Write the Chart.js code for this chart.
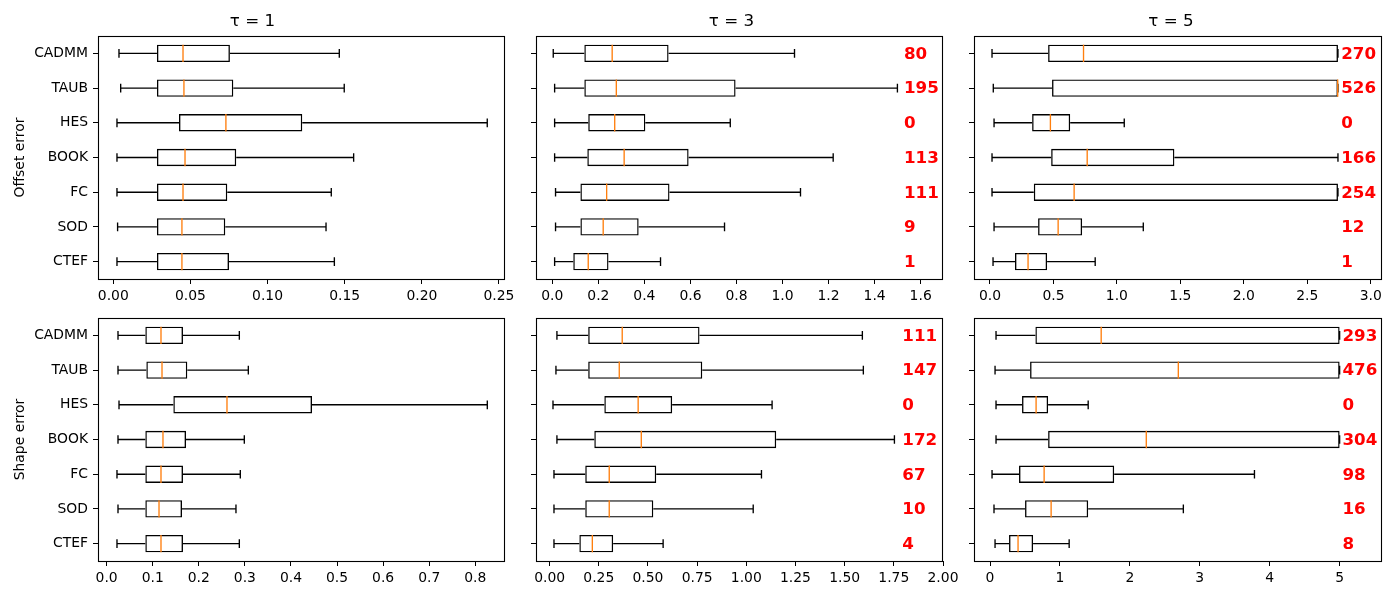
<!DOCTYPE html>
<html>
<head>
<meta charset="utf-8">
<script src="https://cdn.jsdelivr.net/npm/chart.js@4.4.1/dist/chart.umd.min.js"></script>
<style>
  html, body { margin: 0; padding: 0; background: #fff; }
  #fig { position: relative; width: 1400px; height: 600px; overflow: hidden; background: #fff; }
  #fig canvas { position: absolute; }
</style>
</head>
<body>
<div id="fig">
  <canvas id="p0" width="520" height="320" style="left:0px;top:0px"></canvas>
  <canvas id="p1" width="440" height="320" style="left:520px;top:0px"></canvas>
  <canvas id="p2" width="440" height="320" style="left:960px;top:0px"></canvas>
  <canvas id="p3" width="520" height="320" style="left:0px;top:280px"></canvas>
  <canvas id="p4" width="440" height="320" style="left:520px;top:280px"></canvas>
  <canvas id="p5" width="440" height="320" style="left:960px;top:280px"></canvas>
</div>
<script>
const methods = ['CADMM', 'TAUB', 'HES', 'BOOK', 'FC', 'SOD', 'CTEF'];

// une ligne par méthode : [moustache basse, Q1, médiane, Q3, moustache haute]
const offsetTau1 = [
  [0.0037, 0.0283, 0.0452, 0.0756, 0.1465],
  [0.0048, 0.0283, 0.0458, 0.0778, 0.1497],
  [0.0024, 0.0426, 0.0730, 0.1225, 0.2424],
  [0.0024, 0.0283, 0.0465, 0.0797, 0.1558],
  [0.0024, 0.0283, 0.0452, 0.0739, 0.1413],
  [0.0028, 0.0283, 0.0445, 0.0726, 0.1379],
  [0.0024, 0.0283, 0.0445, 0.0750, 0.1433]
];
const offsetTau3 = [
  [0.004, 0.139, 0.260, 0.505, 1.052],
  [0.010, 0.139, 0.278, 0.796, 1.499],
  [0.010, 0.156, 0.271, 0.404, 0.773],
  [0.010, 0.152, 0.312, 0.592, 1.220],
  [0.014, 0.122, 0.236, 0.509, 1.078],
  [0.014, 0.122, 0.221, 0.375, 0.748],
  [0.010, 0.091, 0.156, 0.244, 0.470]
];
const offsetTau5 = [
  [0.016, 0.458, 0.737, 2.742, 2.742],
  [0.026, 0.489, 2.740, 2.742, 2.742],
  [0.032, 0.332, 0.476, 0.632, 1.058],
  [0.016, 0.482, 0.766, 1.453, 2.742],
  [0.016, 0.345, 0.663, 2.742, 2.742],
  [0.032, 0.379, 0.537, 0.726, 1.208],
  [0.024, 0.197, 0.300, 0.450, 0.829]
];
const shapeTau1 = [
  [0.0246, 0.0839, 0.1179, 0.1656, 0.2879],
  [0.0246, 0.0861, 0.1201, 0.1750, 0.3074],
  [0.0268, 0.1447, 0.2611, 0.4456, 0.8260],
  [0.0246, 0.0839, 0.1222, 0.1722, 0.2987],
  [0.0224, 0.0839, 0.1179, 0.1656, 0.2900],
  [0.0246, 0.0839, 0.1136, 0.1635, 0.2806],
  [0.0224, 0.0839, 0.1179, 0.1656, 0.2879]
];
const shapeTau3 = [
  [0.037, 0.196, 0.369, 0.762, 1.590],
  [0.032, 0.196, 0.354, 0.776, 1.595],
  [0.017, 0.278, 0.450, 0.623, 1.131],
  [0.037, 0.227, 0.466, 1.152, 1.753],
  [0.022, 0.181, 0.303, 0.542, 1.077],
  [0.022, 0.181, 0.303, 0.527, 1.035],
  [0.022, 0.151, 0.217, 0.323, 0.577]
];
const shapeTau5 = [
  [0.086, 0.649, 1.590, 5.000, 5.000],
  [0.072, 0.573, 2.693, 5.000, 5.000],
  [0.086, 0.458, 0.659, 0.831, 1.404],
  [0.086, 0.831, 2.235, 5.000, 5.000],
  [0.029, 0.415, 0.774, 1.776, 3.782],
  [0.057, 0.501, 0.874, 1.404, 2.765],
  [0.072, 0.272, 0.401, 0.616, 1.132]
];

// nombres affichés en rouge à droite
const offsetCount3 = [80, 195, 0, 113, 111, 9, 1];
const offsetCount5 = [270, 526, 0, 166, 254, 12, 1];
const shapeCount3 = [111, 147, 0, 172, 67, 10, 4];
const shapeCount5 = [293, 476, 0, 304, 98, 16, 8];

// graduations de l'axe x
const offsetTicks1 = ['0.00', '0.05', '0.10', '0.15', '0.20', '0.25'];
const offsetTicks3 = ['0.0', '0.2', '0.4', '0.6', '0.8', '1.0', '1.2', '1.4', '1.6'];
const offsetTicks5 = ['0.0', '0.5', '1.0', '1.5', '2.0', '2.5', '3.0'];
const shapeTicks1 = ['0.0', '0.1', '0.2', '0.3', '0.4', '0.5', '0.6', '0.7', '0.8'];
const shapeTicks3 = ['0.00', '0.25', '0.50', '0.75', '1.00', '1.25', '1.50', '1.75', '2.00'];
const shapeTicks5 = ['0', '1', '2', '3', '4', '5'];

const FONT = "'DejaVu Sans', sans-serif";
Chart.defaults.font.family = FONT;
Chart.defaults.font.size = 13.9;
Chart.defaults.color = '#000';
Chart.defaults.animation = false;

// Moustaches, médianes, compteurs et cadre
const boxExtras = {
    id: 'boxExtras',
    afterDatasetsDraw(chart, args, opts) {
        const { ctx, chartArea, scales: { x, y } } = chart;
        const bars = chart.getDatasetMeta(0).data;
        ctx.save();
        ctx.lineWidth = 1.35;
        opts.stats.forEach((s, i) => {
            const [lo, q1, med, q3, hi] = s;
            const yc = y.getPixelForValue(i);
            const h = bars[i].height;
            const cap = h / 4;
            const xlo = x.getPixelForValue(lo), xhi = x.getPixelForValue(hi);
            ctx.strokeStyle = '#000';
            ctx.beginPath();
            ctx.moveTo(xlo, yc); ctx.lineTo(x.getPixelForValue(q1), yc);
            ctx.moveTo(x.getPixelForValue(q3), yc); ctx.lineTo(xhi, yc);
            ctx.moveTo(xlo, yc - cap); ctx.lineTo(xlo, yc + cap);
            ctx.moveTo(xhi, yc - cap); ctx.lineTo(xhi, yc + cap);
            ctx.stroke();
            const xm = x.getPixelForValue(med);
            ctx.strokeStyle = '#ff7f0e';
            ctx.beginPath();
            ctx.moveTo(xm, yc - h / 2); ctx.lineTo(xm, yc + h / 2);
            ctx.stroke();
        });
        if (opts.counts) {
            ctx.fillStyle = '#ff0000';
            ctx.font = "bold 16.7px " + FONT;
            ctx.textAlign = 'left';
            ctx.textBaseline = 'middle';
            const tx = chartArea.left + opts.countPos * (chartArea.right - chartArea.left);
            opts.counts.forEach((c, i) => {
                ctx.fillText(String(c), tx, y.getPixelForValue(i) + 1);
            });
        }
        ctx.restore();
    },
    afterDraw(chart) {
        const { ctx, chartArea: a } = chart;
        ctx.save();
        ctx.strokeStyle = '#000';
        ctx.lineWidth = 1.1;
        ctx.strokeRect(Math.round(a.left) + 0.5, Math.round(a.top) + 0.5,
            Math.round(a.right - a.left) - 1, Math.round(a.bottom - a.top));
        ctx.restore();
    }
};

const colLayout = [
    { yWidth: 98, right: 15, labels: true },
    { yWidth: 16, right: 17, labels: false },
    { yWidth: 14, right: 18, labels: false }
];
const rowLayout = [
    { top: 0, xHeight: 41 },
    { top: 38, xHeight: 39 }
];

const panels = [
    { id: 'p0', row: 0, col: 0, stats: offsetTau1, ticks: offsetTicks1, min: -0.0099, max: 0.2539, title: 'τ = 1', ylabel: 'Offset error', counts: null },
    { id: 'p1', row: 0, col: 1, stats: offsetTau3, ticks: offsetTicks3, min: -0.0709, max: 1.697, title: 'τ = 3', counts: offsetCount3, countPos: 0.904 },
    { id: 'p2', row: 0, col: 2, stats: offsetTau5, ticks: offsetTicks5, min: -0.126, max: 3.089, title: 'τ = 5', counts: offsetCount5, countPos: 0.900 },
    { id: 'p3', row: 1, col: 0, stats: shapeTau1, ticks: shapeTicks1, min: -0.0188, max: 0.8644, ylabel: 'Shape error', counts: null },
    { id: 'p4', row: 1, col: 1, stats: shapeTau3, ticks: shapeTicks3, min: -0.0694, max: 2.0, counts: shapeCount3, countPos: 0.900 },
    { id: 'p5', row: 1, col: 2, stats: shapeTau5, ticks: shapeTicks5, min: -0.229, max: 5.606, counts: shapeCount5, countPos: 0.903 }
];

panels.forEach(p => {
    const col = colLayout[p.col];
    const row = rowLayout[p.row];
    const ctx = document.getElementById(p.id).getContext('2d');

    new Chart(ctx, {
        type: 'bar',
        data: {
            labels: methods,
            datasets: [{
                data: p.stats.map(s => [s[1], s[3]]),
                backgroundColor: 'rgba(255,255,255,0)',
                borderColor: '#000',
                borderWidth: 1.35,
                borderSkipped: false,
                barPercentage: 0.5,
                categoryPercentage: 1.0
            }]
        },
        options: {
            indexAxis: 'y',
            responsive: false,
            devicePixelRatio: 1,
            animation: false,
            layout: { padding: { left: 0, right: col.right, top: row.top, bottom: 0 } },
            plugins: {
                legend: { display: false },
                tooltip: { enabled: false },
                title: {
                    display: !!p.title,
                    text: p.title || '',
                    color: '#000',
                    font: { family: FONT, size: 16.7, weight: 'normal', lineHeight: '20px' },
                    padding: { top: 12, bottom: 4 }
                },
                boxExtras: { stats: p.stats, counts: p.counts, countPos: p.countPos }
            },
            scales: {
                x: {
                    type: 'linear',
                    min: p.min,
                    max: p.max,
                    afterBuildTicks: s => { s.ticks = p.ticks.map(t => ({ value: parseFloat(t) })); },
                    afterFit: s => { s.height = row.xHeight; s.paddingLeft = 0; s.paddingRight = 0; },
                    ticks: {
                        padding: 4,
                        maxRotation: 0,
                        autoSkip: false,
                        callback: (v, i) => p.ticks[i]
                    },
                    grid: { drawOnChartArea: false, drawTicks: true, tickLength: 5, tickColor: '#000', tickWidth: 1 },
                    border: { display: false }
                },
                y: {
                    type: 'category',
                    afterFit: s => { s.width = col.yWidth; s.paddingTop = 0; s.paddingBottom = 0; },
                    ticks: {
                        padding: 5,
                        autoSkip: false,
                        callback: function (v) { return col.labels ? this.getLabelForValue(v) : ''; }
                    },
                    title: {
                        display: !!p.ylabel,
                        text: p.ylabel || '',
                        color: '#000',
                        font: { family: FONT, size: 13.9 },
                        padding: { top: 12, bottom: 0 }
                    },
                    grid: { drawOnChartArea: false, drawTicks: true, tickLength: 5, tickColor: '#000', tickWidth: 1, offset: false },
                    border: { display: false }
                }
            }
        },
        plugins: [boxExtras]
    });
});
</script>
</body>
</html>
